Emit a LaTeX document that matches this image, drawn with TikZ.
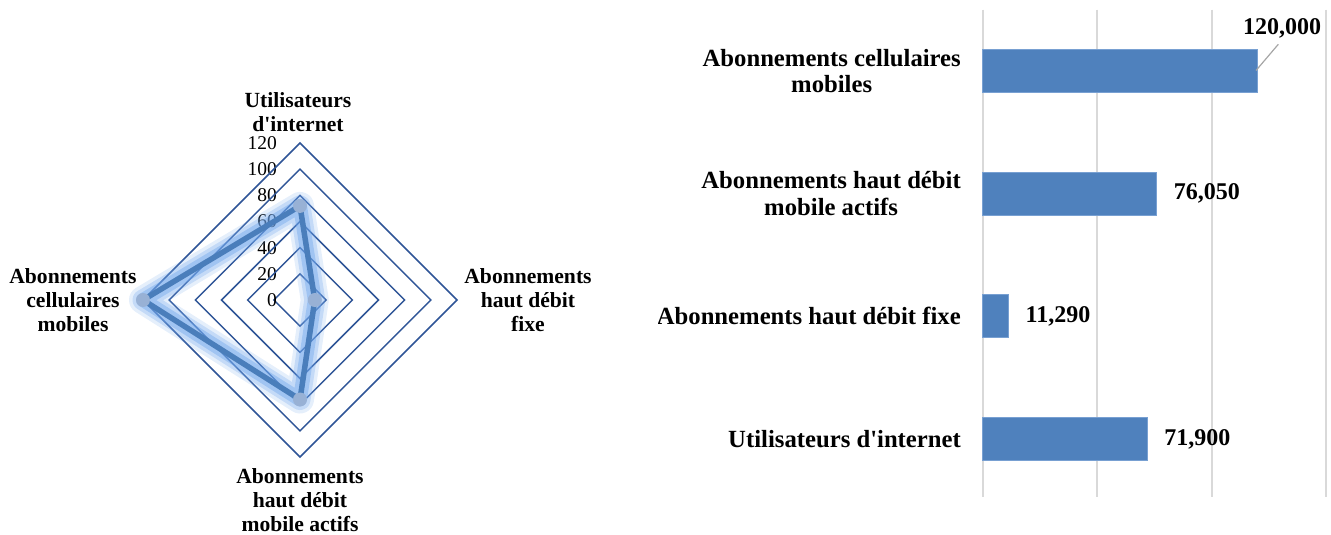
\documentclass[tikz,border=0pt]{standalone}
\usepackage{fontspec}
\setmainfont{Liberation Serif}[Ligatures=TeXOff]
\definecolor{ringblue}{RGB}{47,85,151}
\definecolor{dataline}{RGB}{74,126,187}
\definecolor{glowblue}{RGB}{110,165,235}
\definecolor{markfill}{RGB}{152,177,213}
\definecolor{barfill}{RGB}{79,129,189}
\definecolor{barline}{RGB}{120,160,210}
\definecolor{gridgray}{RGB}{217,217,217}
\definecolor{leadgray}{RGB}{166,166,166}
\tikzset{
  ring/.style={draw=ringblue, line width=1.5pt, line join=miter},
  glow/.style={draw=glowblue, line join=round, line cap=round},
  dataseries/.style={draw=dataline, line width=5.5pt, line join=round},
  datamark/.style={circle, fill=markfill, inner sep=0pt, minimum size=14pt},
  ticklbl/.style={anchor=east, inner sep=0pt, font=\fontsize{19.5}{21}\selectfont},
  radlbl/.style={align=center, inner sep=0pt, font=\fontsize{21.6}{24}\selectfont\bfseries},
  gridln/.style={draw=gridgray, line width=2pt},
  barbox/.style={fill=barfill, draw=barline, line width=0.8pt, anchor=west, minimum height=43pt, inner sep=0pt, outer sep=0pt},
  catlbl/.style={align=center, anchor=east, inner sep=0pt, font=\fontsize{24.7}{26.5}\selectfont\bfseries},
  vallbl/.style={anchor=west, inner sep=0pt, font=\fontsize{24}{26}\selectfont\bfseries},
  leader/.style={draw=leadgray, line width=1.2pt}
}
\begin{document}
\begin{tikzpicture}[x=1pt,y=-1pt]
\useasboundingbox (0,0) rectangle (1331,535);
% ---------------- radar chart ----------------
\coordinate (C) at (300,300);
\foreach \v in {20,40,60,80,100,120}{
  \pgfmathsetmacro{\r}{\v*1.308333}
  \draw[ring] (300,300-\r) -- (300+\r,300) -- (300,300+\r) -- (300-\r,300) -- cycle;
  \node[ticklbl] (t\v) at (277,300-\r) {\v};
}
\node[ticklbl] (t0) at (277,300) {0};
% data points: 71.9, 11.29, 76.05, 120
\coordinate (pU) at (300,{300-71.9*1.308333});
\coordinate (pF) at ({300+11.29*1.308333},300);
\coordinate (pM) at (300,{300+76.05*1.308333});
\coordinate (pC) at ({300-120*1.308333},300);
\draw[glow, line width=28pt, draw opacity=0.18] (pU) -- (pF) -- (pM) -- (pC) -- cycle;
\draw[glow, line width=21pt, draw opacity=0.28] (pU) -- (pF) -- (pM) -- (pC) -- cycle;
\draw[glow, line width=14pt, draw opacity=0.42] (pU) -- (pF) -- (pM) -- (pC) -- cycle;
\draw[dataseries] (pU) -- (pF) -- (pM) -- (pC) -- cycle;
\foreach \p in {pU,pF,pM,pC}{ \node[datamark] at (\p) {}; }
\node[radlbl] (lU) at (298,112) {Utilisateurs\\d'internet};
\node[radlbl] (lF) at (528,300) {Abonnements\\haut débit\\fixe};
\node[radlbl] (lC) at (73,300) {Abonnements\\cellulaires\\mobiles};
\node[radlbl] (lM) at (300,500) {Abonnements\\haut débit\\mobile actifs};
% ---------------- bar chart ----------------
\foreach \gx in {982.5,1097,1211.5,1326}{
  \draw[gridln] (\gx,9.6) -- (\gx,497);
}
\node[barbox, minimum width=274.8pt] (b1) at (982.5,71) {};
\node[barbox, minimum width=174.2pt] (b2) at (982.5,193.7) {};
\node[barbox, minimum width=25.9pt] (b3) at (982.5,316.3) {};
\node[barbox, minimum width=164.6pt] (b4) at (982.5,439) {};
\begin{scope}
\clip (658,0) rectangle (1331,535);
\node[catlbl] (c1) at (961,71) {Abonnements cellulaires\\mobiles};
\node[catlbl] (c2) at (961,193.7) {Abonnements haut débit\\mobile actifs};
\node[catlbl] (c3) at (961,316.3) {Abonnements haut débit fixe};
\node[catlbl] (c4) at (961,439) {Utilisateurs d'internet};
\end{scope}
\node[vallbl, anchor=center] (v1) at (1282,28) {120,000};
\node[vallbl] (v2) at ([xshift=17pt]b2.east) {76,050};
\node[vallbl] (v3) at ([xshift=17pt]b3.east) {11,290};
\node[vallbl] (v4) at ([xshift=17pt]b4.east) {71,900};
\coordinate (lead1) at (1256,70.5);
\coordinate (lead2) at (1278.3,44.3);
\draw[leader] (lead1) -- (lead2);
\end{tikzpicture}
\end{document}
